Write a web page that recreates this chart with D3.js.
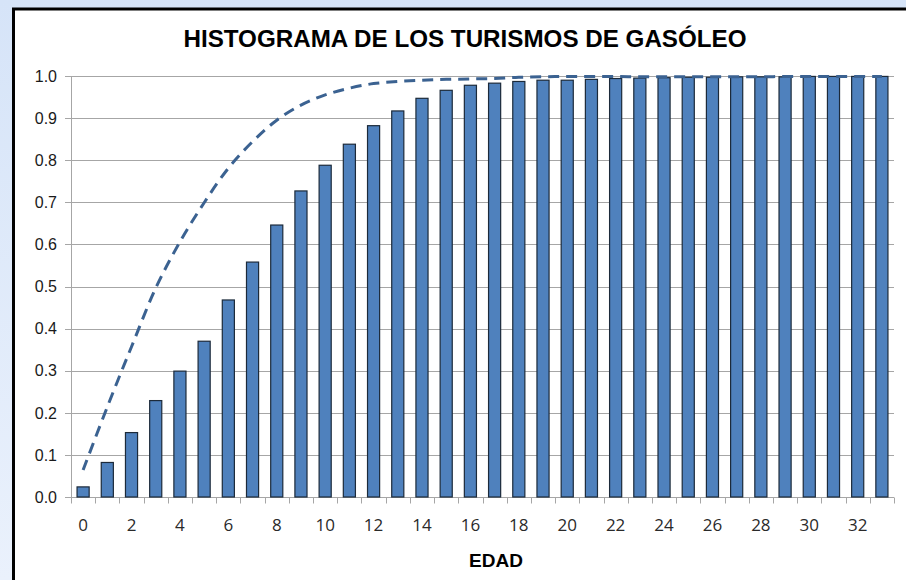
<!DOCTYPE html>
<html>
<head>
<meta charset="utf-8">
<script src="https://cdn.jsdelivr.net/npm/d3@7"></script>
<style>
  body { margin: 0; padding: 0; }
  svg { display: block; }
</style>
</head>
<body>
<div id="chart"></div>
<script>
var width = 906,
    height = 580,
    margin = {top: 76, right: 12, bottom: 83, left: 71};

// edades 0..33
var edades = d3.range(0, 34);
var xTickLabels = edades.filter(function(d) { return d % 2 === 0; });

// frecuencia acumulada (barras)
var barValues = [0.024, 0.082, 0.153, 0.229, 0.299, 0.370, 0.468, 0.558, 0.646, 0.727,
                 0.788, 0.838, 0.882, 0.917, 0.947, 0.966, 0.978, 0.983, 0.987, 0.990,
                 0.990, 0.992, 0.994, 0.995, 0.996, 0.997, 0.997, 0.998, 0.998, 0.998,
                 0.999, 0.999, 0.999, 0.999];

// linea discontinua
var lineValues = [0.064, 0.214, 0.357, 0.496, 0.606, 0.699, 0.781, 0.844, 0.895, 0.931,
                  0.955, 0.971, 0.982, 0.987, 0.990, 0.992, 0.993, 0.994, 0.997, 0.998,
                  0.999, 0.999, 0.999, 0.998, 0.998, 0.998, 0.998, 0.998, 0.998, 0.999,
                  0.999, 0.999, 0.999, 0.999];

var yTicks = d3.range(0, 11).map(function(d) { return d / 10; });

var svg = d3.select("#chart")
    .append("svg")
    .attr("width", width)
    .attr("height", height);

// fondo azul claro
var defs = svg.append("defs");
var grad = defs.append("linearGradient")
    .attr("id", "bg")
    .attr("x1", 0).attr("y1", 0).attr("x2", 0).attr("y2", 1);
grad.append("stop").attr("offset", "0%").attr("stop-color", "#d6e4f8");
grad.append("stop").attr("offset", "100%").attr("stop-color", "#eaf1fc");

svg.append("rect")
    .attr("width", width)
    .attr("height", height)
    .attr("fill", "url(#bg)");

svg.append("rect")
    .attr("x", 13.5)
    .attr("y", 9)
    .attr("width", width + 20)
    .attr("height", height + 20)
    .attr("fill", "#ffffff")
    .attr("stroke", "#000")
    .attr("stroke-width", 3);

var plotW = width - margin.left - margin.right,
    plotH = height - margin.top - margin.bottom;

var g = svg.append("g")
    .attr("transform", `translate(${margin.left},${margin.top})`);

var x = d3.scaleBand()
    .domain(edades)
    .range([0, plotW])
    .paddingInner(0.5)
    .paddingOuter(0.25);

var xc = d3.scaleBand()
    .domain(edades)
    .range([0, plotW]);

var y = d3.scaleLinear()
    .domain([0, 1])
    .range([plotH, 0]);

// rejilla
g.append("g")
    .selectAll("line")
    .data(yTicks)
    .enter()
    .append("line")
    .attr("x1", -6)
    .attr("x2", plotW)
    .attr("y1", function(d) { return Math.round(y(d)) + 0.5; })
    .attr("y2", function(d) { return Math.round(y(d)) + 0.5; })
    .attr("stroke", "#a6a6a6")
    .attr("stroke-width", 1);

// eje y
g.append("line")
    .attr("x1", 0.5).attr("x2", 0.5)
    .attr("y1", 0).attr("y2", plotH)
    .attr("stroke", "#a6a6a6");

g.append("g")
    .selectAll("text")
    .data(yTicks)
    .enter()
    .append("text")
    .attr("x", -14)
    .attr("y", function(d) { return y(d); })
    .attr("dy", "0.36em")
    .attr("text-anchor", "end")
    .style("font-family", "Arial, 'Liberation Sans', sans-serif")
    .style("font-size", "16px")
    .style("fill", "#1a1a1a")
    .text(function(d) { return d3.format(".1f")(d); });

// eje x
var xAxis = g.append("g")
    .attr("transform", `translate(0,${Math.round(plotH) + 0.5})`);

xAxis.append("line")
    .attr("x1", 0).attr("x2", plotW)
    .attr("stroke", "#a6a6a6");

xAxis.selectAll(".tick")
    .data(edades.concat([34]))
    .enter()
    .append("line")
    .attr("x1", function(d) { return Math.round(d * xc.step()) + 0.5; })
    .attr("x2", function(d) { return Math.round(d * xc.step()) + 0.5; })
    .attr("y1", 0)
    .attr("y2", 6)
    .attr("stroke", "#a6a6a6");

xAxis.selectAll("text")
    .data(xTickLabels)
    .enter()
    .append("text")
    .attr("x", function(d) { return xc(d) + xc.bandwidth() / 2; })
    .attr("y", 33)
    .attr("text-anchor", "middle")
    .style("font-family", "'Open Sans', sans-serif")
    .style("font-size", "17px")
    .style("fill", "#2a2a2a")
    .text(function(d) { return d; });

// barras
g.append("g")
    .selectAll("rect")
    .data(barValues)
    .enter()
    .append("rect")
    .attr("x", function(d, i) { return x(edades[i]); })
    .attr("y", function(d) { return y(d); })
    .attr("width", x.bandwidth())
    .attr("height", function(d) { return plotH - y(d); })
    .attr("fill", "#4f81bd")
    .attr("stroke", "#1c2a3a")
    .attr("stroke-width", 1.2);

// linea discontinua suavizada
var line = d3.line()
    .x(function(d, i) { return xc(edades[i]) + xc.bandwidth() / 2; })
    .y(function(d) { return y(d); })
    .curve(d3.curveCatmullRom.alpha(0.5));

g.append("path")
    .datum(lineValues)
    .attr("fill", "none")
    .attr("stroke", "#3b6291")
    .attr("stroke-width", 3)
    .attr("stroke-dasharray", "11,7")
    .attr("d", line);

// titulos
svg.append("text")
    .attr("x", 465)
    .attr("y", 47)
    .attr("text-anchor", "middle")
    .style("font-family", "Arial, 'Liberation Sans', sans-serif")
    .style("font-weight", "bold")
    .style("font-size", "24.2px")
    .text("HISTOGRAMA DE LOS TURISMOS DE GASÓLEO");

svg.append("text")
    .attr("x", 496)
    .attr("y", 567)
    .attr("text-anchor", "middle")
    .style("font-family", "Arial, 'Liberation Sans', sans-serif")
    .style("font-weight", "bold")
    .style("font-size", "19px")
    .text("EDAD");
</script>
</body>
</html>
